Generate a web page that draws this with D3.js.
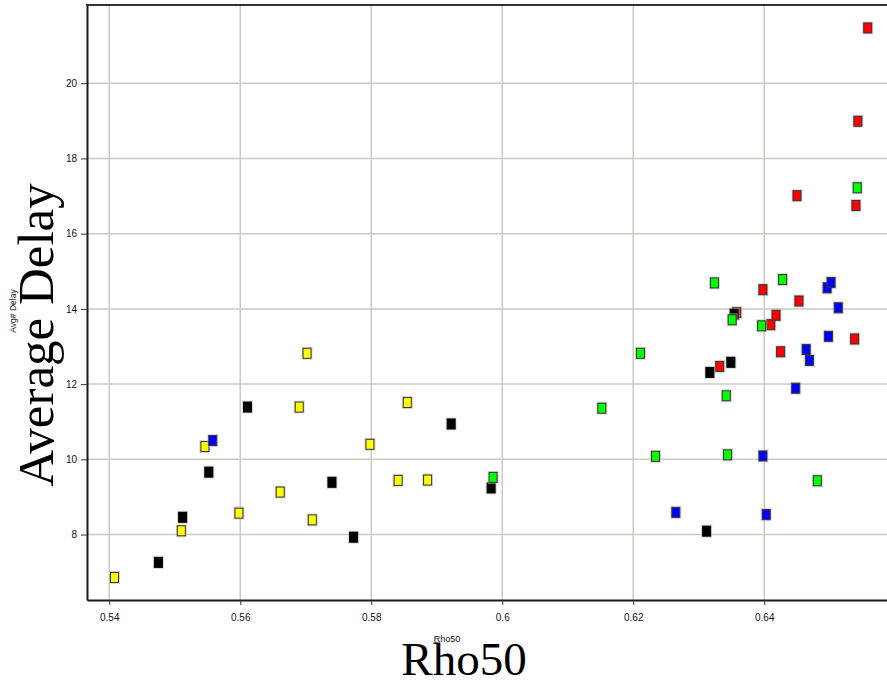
<!DOCTYPE html>
<html>
<head>
<meta charset="utf-8">
<script src="https://cdn.jsdelivr.net/npm/d3@7"></script>
<style>
  body { margin: 0; background: #fff; }
  svg { display: block; }
</style>
</head>
<body>
<div id="chart"></div>
<script>
// values, [rho50, avg delay]
var yellowPts = [
  [0.5408, 6.86], [0.5510, 8.10], [0.5546, 10.34], [0.5598, 8.57], [0.5661, 9.13],
  [0.5690, 11.39], [0.5702, 12.82], [0.5710, 8.39], [0.5798, 10.40], [0.5841, 9.44],
  [0.5855, 11.51], [0.5886, 9.45]
];
var redPts = [
  [0.6332, 12.47], [0.6358, 13.90], [0.6398, 14.51], [0.6410, 13.58], [0.6418, 13.83],
  [0.6425, 12.86], [0.6453, 14.21], [0.6450, 17.01], [0.6538, 13.20], [0.6540, 16.75],
  [0.6543, 18.99], [0.6558, 21.47]
];
var blackPts = [
  [0.5475, 7.26], [0.5512, 8.46], [0.5552, 9.66], [0.5611, 11.39], [0.5740, 9.39],
  [0.5773, 7.93], [0.5922, 10.94], [0.5983, 9.24], [0.6312, 8.09], [0.6317, 12.31],
  [0.6349, 12.58], [0.6354, 13.86]
];
var bluePts = [
  [0.5558, 10.50], [0.6265, 8.59], [0.6398, 10.09], [0.6403, 8.53], [0.6448, 11.89],
  [0.6464, 12.92], [0.6469, 12.63], [0.6498, 13.27], [0.6513, 14.03], [0.6496, 14.56],
  [0.6502, 14.70]
];
var greenPts = [
  [0.5986, 9.52], [0.6152, 11.36], [0.6211, 12.82], [0.6234, 10.08], [0.6324, 14.69],
  [0.6344, 10.12], [0.6342, 11.69], [0.6351, 13.71], [0.6396, 13.55], [0.6428, 14.78],
  [0.6481, 9.43], [0.6542, 17.22]
];

var xTicks = [0.54, 0.56, 0.58, 0.6, 0.62, 0.64];
var xTickLabels = ["0.54", "0.56", "0.58", "0.6", "0.62", "0.64"];
var yTicks = [8, 10, 12, 14, 16, 18, 20];

var width = 887;
var height = 682;
var plotLeft = 87, plotRight = 890, plotTop = 5, plotBottom = 600;

var svg = d3.select('#chart')
  .append('svg')
  .attr('width', width)
  .attr('height', height);

var x = d3.scaleLinear()
  .domain([0.5366, 0.6592])
  .range([plotLeft, plotRight]);

var y = d3.scaleLinear()
  .domain([6.26, 22.08])
  .range([plotBottom, plotTop]);

// grid
svg.append('g')
  .selectAll('line')
  .data(xTicks)
  .enter()
  .append('line')
  .attr('x1', function(d) { return x(d); })
  .attr('x2', function(d) { return x(d); })
  .attr('y1', plotTop)
  .attr('y2', plotBottom)
  .attr('stroke', '#cac9c4')
  .attr('stroke-width', 1.5);

svg.append('g')
  .selectAll('line')
  .data(yTicks)
  .enter()
  .append('line')
  .attr('x1', plotLeft)
  .attr('x2', plotRight)
  .attr('y1', function(d) { return y(d); })
  .attr('y2', function(d) { return y(d); })
  .attr('stroke', '#cac9c4')
  .attr('stroke-width', 1.5);

// axes
var xAxis = d3.axisBottom(x)
  .tickValues(xTicks)
  .tickFormat(function(d, i) { return xTickLabels[i]; })
  .tickSize(5)
  .tickSizeOuter(0);

var yAxis = d3.axisLeft(y)
  .tickValues(yTicks)
  .tickSize(6)
  .tickSizeOuter(0);

var gx = svg.append('g')
  .attr('transform', 'translate(0,' + plotBottom + ')')
  .call(xAxis);

var gy = svg.append('g')
  .attr('transform', 'translate(' + plotLeft + ',0)')
  .call(yAxis);

[gx, gy].forEach(function(g) {
  g.select('.domain').attr('stroke', '#1a1a1a').attr('stroke-width', 2);
  g.selectAll('.tick line').attr('stroke', '#333');
  g.selectAll('.tick text')
    .attr('fill', '#111')
    .attr('style', 'font-family: "Liberation Sans", Arial, sans-serif; font-size: 10px');
});
gx.selectAll('.tick text').attr('dy', '1.3em');
gy.selectAll('.tick text').attr('x', -10);

// top border
svg.append('line')
  .attr('x1', plotLeft - 1)
  .attr('x2', plotRight)
  .attr('y1', plotTop)
  .attr('y2', plotTop)
  .attr('stroke', '#333')
  .attr('stroke-width', 2);

// markers
var series = [
  { pts: yellowPts, fill: '#ffff00', stroke: '#333' },
  { pts: redPts, fill: '#ff0000', stroke: '#333' },
  { pts: blackPts, fill: '#000000', stroke: '#000' },
  { pts: bluePts, fill: '#0000ff', stroke: '#333' },
  { pts: greenPts, fill: '#00ff00', stroke: '#333' }
];

var mw = 8, mh = 10;

series.forEach(function(s) {
  var g = svg.append('g');
  g.selectAll('rect.halo')
    .data(s.pts)
    .enter()
    .append('rect')
    .attr('class', 'halo')
    .attr('x', function(d) { return x(d[0]) - mw / 2 - 1.5; })
    .attr('y', function(d) { return y(d[1]) - mh / 2 - 1.5; })
    .attr('width', mw + 3)
    .attr('height', mh + 3)
    .attr('fill', '#bdbdbd')
    .attr('opacity', 0.6);
  g.selectAll('rect.mark')
    .data(s.pts)
    .enter()
    .append('rect')
    .attr('class', 'mark')
    .attr('x', function(d) { return x(d[0]) - mw / 2; })
    .attr('y', function(d) { return y(d[1]) - mh / 2; })
    .attr('width', mw)
    .attr('height', mh)
    .attr('fill', s.fill)
    .attr('stroke', s.stroke)
    .attr('stroke-width', 1);
});

// axis titles
svg.append('text')
  .attr('x', 447)
  .attr('y', 642)
  .attr('text-anchor', 'middle')
  .attr('style', 'font-family: "Liberation Sans Narrow", "Liberation Sans", Arial, sans-serif; font-size: 9px; fill: #111')
  .text('Rho50');

svg.append('text')
  .attr('x', 464)
  .attr('y', 675)
  .attr('text-anchor', 'middle')
  .attr('style', 'font-family: "Liberation Serif", "Times New Roman", serif; font-size: 47px; fill: #000')
  .text('Rho50');

svg.append('text')
  .attr('transform', 'translate(16,311) rotate(-90)')
  .attr('text-anchor', 'middle')
  .attr('style', 'font-family: "Liberation Sans", Arial, sans-serif; font-size: 8.5px; fill: #111')
  .text('Avg# Delay');

svg.append('text')
  .attr('transform', 'translate(53,335) rotate(-90)')
  .attr('text-anchor', 'middle')
  .attr('style', 'font-family: "Liberation Serif", "Times New Roman", serif; font-size: 51px; fill: #000')
  .text('Average Delay');
</script>
</body>
</html>
